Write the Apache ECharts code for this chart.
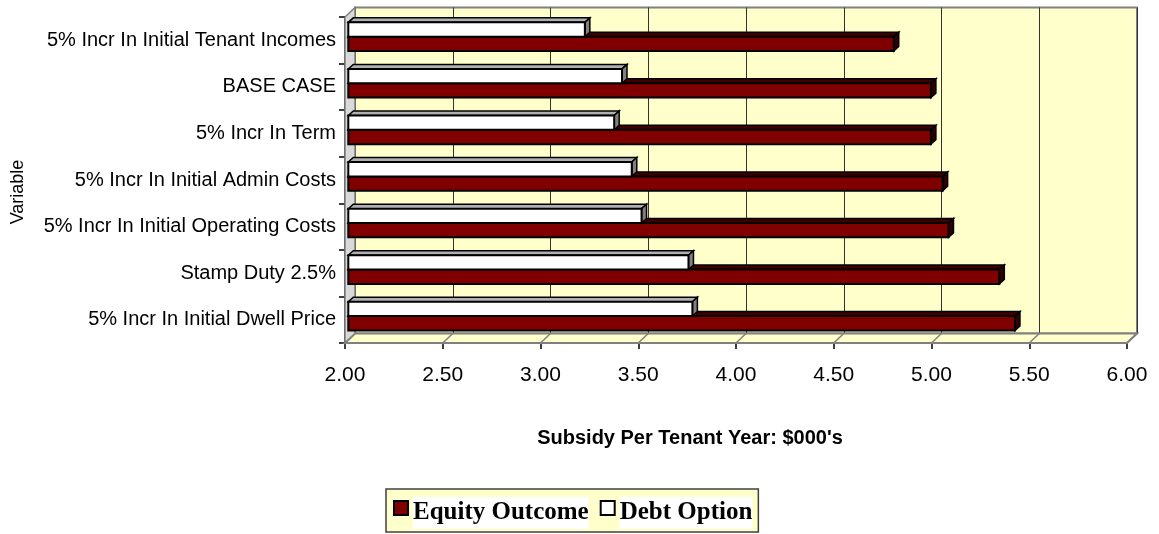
<!DOCTYPE html>
<html>
<head>
<meta charset="utf-8">
<script src="https://cdn.jsdelivr.net/npm/echarts@6.0.0/dist/echarts.min.js"></script>
<style>
  html, body { margin: 0; padding: 0; background: #ffffff; }
  #chart { width: 1159px; height: 534px; }
</style>
</head>
<body>
<div id="chart"></div>
<script>
// Sensitivity of the subsidy per tenant year ($000's) to each variable
const categories = [
  '5% Incr In Initial Tenant Incomes',
  'BASE CASE',
  '5% Incr In Term',
  '5% Incr In Initial Admin Costs',
  '5% Incr In Initial Operating Costs',
  'Stamp Duty 2.5%',
  '5% Incr In Initial Dwell Price'
];
const equityOutcome = [4.79, 4.98, 4.98, 5.04, 5.07, 5.33, 5.41];
const debtOption    = [3.21, 3.40, 3.36, 3.45, 3.50, 3.74, 3.76];
const xTicks = [2.0, 2.5, 3.0, 3.5, 4.0, 4.5, 5.0, 5.5, 6.0];
const seriesNames = ['Equity Outcome', 'Debt Option'];

// Pseudo-3D geometry (pixels)
const FRONT = { left: 345, top: 17, width: 782, height: 326 };
const DEPTH = [10, -9.5];          // front plane -> back wall
const FACE_SHIFT = [3.3, -3.6];    // front face of bars inside the box
const BAR_DEPTH = [5, -4.5];       // thickness of each bar in depth
const BAR_RATIO = 0.308;           // bar thickness / category band

const X_MIN = xTicks[0];
const X_MAX = xTicks[xTicks.length - 1];
const X_STEP = xTicks[1] - xTicks[0];

// legend key: a square sitting at the top of a taller (empty) box
const LEGEND_KEY = 'path://M0,0L14,0L14,14L0,14Z M0,24';

const chart = echarts.init(document.getElementById('chart'), null, { renderer: 'canvas' });

function barRenderer(upper, colors) {
  return function (params, api) {
    const idx = api.value(1);
    const v = api.value(0);
    const start = api.coord([X_MIN, idx]);
    const end = api.coord([v, idx]);
    const band = api.size([0, 1])[1];
    const t = band * BAR_RATIO;
    const cy = start[1] + FACE_SHIFT[1];
    const ya = upper ? cy - t : cy;
    const yb = ya + t;
    const x0 = start[0] + FACE_SHIFT[0];
    const x1 = end[0] + FACE_SHIFT[0];
    const dx = BAR_DEPTH[0], dy = BAR_DEPTH[1];
    return {
      type: 'group',
      children: [
        { type: 'polygon',
          shape: { points: [[x0, ya], [x1, ya], [x1 + dx, ya + dy], [x0 + dx, ya + dy]] },
          style: { fill: colors.top, stroke: '#000', lineWidth: 1.5 } },
        { type: 'polygon',
          shape: { points: [[x1, ya], [x1 + dx, ya + dy], [x1 + dx, yb + dy], [x1, yb]] },
          style: { fill: colors.side, stroke: '#000', lineWidth: 1.5 } },
        { type: 'rect',
          shape: { x: x0, y: ya, width: x1 - x0, height: t },
          style: { fill: colors.front, stroke: '#000', lineWidth: 2 } }
      ]
    };
  };
}

// slanted floor lines running back from each tick
function floorLines(params, api) {
  const p = api.coord([api.value(0), 0]);
  const cs = params.coordSys;
  const yb = cs.y + cs.height;
  return {
    type: 'line',
    shape: { x1: p[0], y1: yb, x2: p[0] + DEPTH[0], y2: yb + DEPTH[1] },
    style: { stroke: '#808080', lineWidth: 1.5 }
  };
}

const F = FRONT;
const backLeft = F.left + DEPTH[0];
const backTop = F.top + DEPTH[1];
const fl = F.left, fr = F.left + F.width, ft = F.top, fb = F.top + F.height;

const option = {
  animation: false,
  backgroundColor: '#ffffff',
  grid: [
    { left: F.left, top: F.top, width: F.width, height: F.height, show: false, containLabel: false },
    { left: backLeft, top: backTop, width: F.width, height: F.height, show: true,
      backgroundColor: '#FFFFCC', borderColor: '#808080', borderWidth: 2, containLabel: false }
  ],
  xAxis: [
    { type: 'value', gridIndex: 0, min: X_MIN, max: X_MAX, interval: X_STEP,
      axisLine: { show: true, lineStyle: { color: '#000', width: 1.5 } },
      axisTick: { show: true, inside: false, length: 6, lineStyle: { color: '#000', width: 1.5 } },
      splitLine: { show: false },
      axisLabel: { margin: 22, color: '#000', fontFamily: 'Liberation Sans, Arial, sans-serif',
        fontSize: 21, formatter: v => v.toFixed(2), showMinLabel: true, showMaxLabel: true } },
    { type: 'value', gridIndex: 1, min: X_MIN, max: X_MAX, interval: X_STEP,
      axisLine: { show: false }, axisTick: { show: false }, axisLabel: { show: false },
      splitLine: { show: true, lineStyle: { color: '#333', width: 1 } } }
  ],
  yAxis: [
    { type: 'category', gridIndex: 0, data: categories, inverse: true,
      axisLine: { show: true, lineStyle: { color: '#000', width: 1.5 } },
      axisTick: { show: true, inside: false, length: 6, lineStyle: { color: '#000', width: 1.5 } },
      splitLine: { show: false },
      axisLabel: { margin: 9, color: '#000', fontFamily: 'Liberation Sans, Arial, sans-serif',
        fontSize: 20, interval: 0, padding: [6, 0, 0, 0] } },
    { type: 'value', gridIndex: 1, show: false, min: 0, max: 1,
      splitLine: { show: false } }
  ],
  legend: {
    left: 386, top: 489,
    orient: 'horizontal',
    icon: LEGEND_KEY,
    symbolKeepAspect: true,
    itemWidth: 14, itemHeight: 24, itemGap: 11,
    padding: [8, 6, 3, 7],
    backgroundColor: '#FFFFCC',
    borderColor: '#404040', borderWidth: 1.5,
    selectedMode: false,
    textStyle: { fontFamily: 'Liberation Serif, Times New Roman, serif', fontWeight: 'bold',
      fontSize: 25, color: '#000', backgroundColor: '#ffffff', padding: [4, 0, 0, 0], lineHeight: 28 },
    data: [
      { name: seriesNames[0], itemStyle: { color: '#800000', borderColor: '#000', borderWidth: 2 } },
      { name: seriesNames[1], itemStyle: { color: '#ffffff', borderColor: '#000', borderWidth: 2 } }
    ]
  },
  graphic: [
    // floor
    { type: 'polygon', z: 1, silent: true,
      shape: { points: [[fl, fb], [fr, fb], [fr + DEPTH[0], fb + DEPTH[1]], [fl + DEPTH[0], fb + DEPTH[1]]] },
      style: { fill: '#FFFFCC', stroke: '#808080', lineWidth: 2 } },
    // left side wall
    { type: 'polygon', z: 1, silent: true,
      shape: { points: [[fl, ft], [fl + DEPTH[0], ft + DEPTH[1]], [fl + DEPTH[0], fb + DEPTH[1]], [fl, fb]] },
      style: { fill: '#D9D9D9', stroke: '#808080', lineWidth: 1.5 } },
    // axis titles
    { type: 'text', z: 5, x: 18, y: 192, rotation: Math.PI / 2, silent: true,
      style: { text: 'Variable', fill: '#000', font: '18px "Liberation Sans", Arial, sans-serif',
        textAlign: 'center', textVerticalAlign: 'middle' } },
    { type: 'text', z: 5, x: 690, y: 438, silent: true,
      style: { text: "Subsidy Per Tenant Year: $000's", fill: '#000',
        font: 'bold 20px "Liberation Sans", Arial, sans-serif',
        textAlign: 'center', textVerticalAlign: 'middle' } }
  ],
  series: [
    { type: 'custom', name: 'floor', xAxisIndex: 0, yAxisIndex: 0, z: 2, silent: true,
      data: xTicks.map(v => [v]), encode: { x: 0 }, renderItem: floorLines },
    { type: 'custom', name: seriesNames[0], xAxisIndex: 0, yAxisIndex: 0, z: 3, silent: true,
      itemStyle: { color: '#800000', borderColor: '#000', borderWidth: 2 },
      data: equityOutcome.map((v, i) => [v, i]), encode: { x: 0, y: 1 },
      renderItem: barRenderer(false, { front: '#800000', top: '#400000', side: '#300000' }) },
    { type: 'custom', name: seriesNames[1], xAxisIndex: 0, yAxisIndex: 0, z: 4, silent: true,
      itemStyle: { color: '#ffffff', borderColor: '#000', borderWidth: 2 },
      data: debtOption.map((v, i) => [v, i]), encode: { x: 0, y: 1 },
      renderItem: barRenderer(true, { front: '#ffffff', top: '#B0B0B0', side: '#808080' }) }
  ]
};

chart.setOption(option);
</script>
</body>
</html>
